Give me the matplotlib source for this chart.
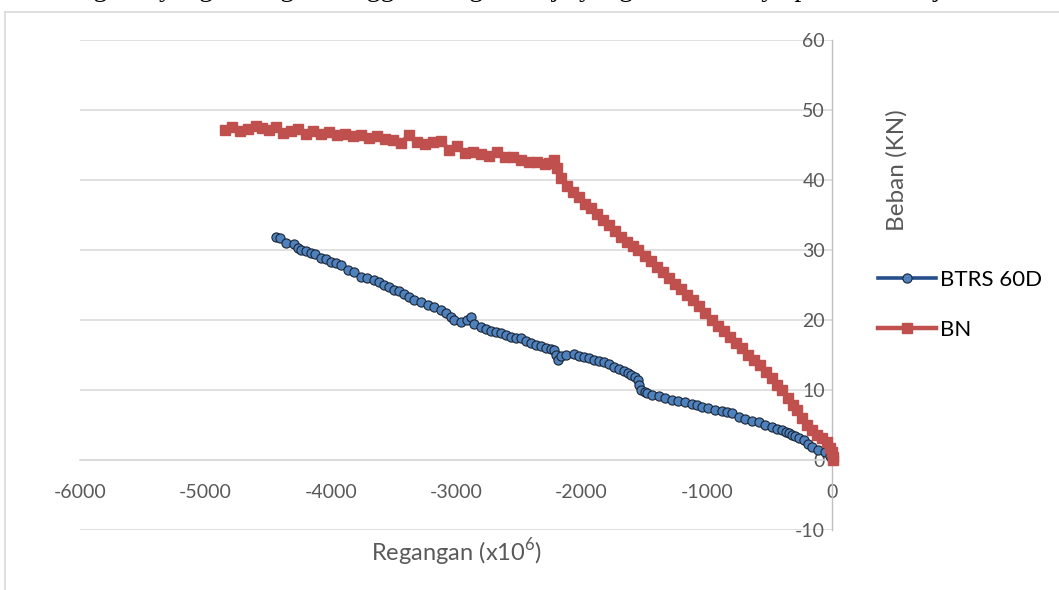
import matplotlib
matplotlib.use("Agg")
import matplotlib.pyplot as plt
from matplotlib.lines import Line2D

plt.rcParams["font.family"] = ["Lato", "DejaVu Sans"]
plt.rcParams["mathtext.fontset"] = "custom"
plt.rcParams["mathtext.rm"] = "Lato"
plt.rcParams["axes.unicode_minus"] = False

# BTRS 60D: strain (x10^6) vs load (kN)
btrs_x = [-4440, -4408, -4360, -4296, -4264, -4240, -4200, -4160, -4128, -4080,
          -4040, -4000, -3960, -3920, -3864, -3816, -3760, -3712, -3656, -3616,
          -3576, -3536, -3496, -3456, -3416, -3376, -3336, -3280, -3224, -3176,
          -3120, -3080, -3040, -3016, -2960, -2912, -2880, -2856, -2800, -2760,
          -2720, -2680, -2640, -2600, -2560, -2520, -2480, -2440, -2400, -2360,
          -2320, -2280, -2240, -2216, -2200, -2184, -2160, -2120, -2056, -2016,
          -1976, -1936, -1896, -1856, -1816, -1776, -1736, -1696, -1656, -1624,
          -1600, -1568, -1544, -1536, -1520, -1496, -1480, -1440, -1384, -1336,
          -1280, -1232, -1176, -1120, -1080, -1040, -992, -936, -880, -840,
          -800, -744, -696, -640, -584, -536, -480, -440, -400, -368,
          -344, -320, -296, -264, -224, -192, -160, -112, -56, -16, 0]
btrs_y = [31.9, 31.7, 31.0, 30.9, 30.3, 30.0, 29.9, 29.6, 29.4, 28.9,
          28.7, 28.3, 28.1, 27.9, 27.1, 26.9, 26.1, 26.0, 25.7, 25.4,
          25.0, 24.7, 24.3, 24.1, 23.7, 23.3, 22.9, 22.6, 22.1, 21.9,
          21.4, 21.0, 20.4, 20.0, 19.7, 20.0, 20.4, 19.4, 19.0, 18.7,
          18.4, 18.3, 18.1, 17.9, 17.6, 17.4, 17.4, 17.0, 16.7, 16.4,
          16.3, 16.0, 15.9, 15.7, 15.0, 14.3, 14.9, 15.0, 15.1, 14.9,
          14.7, 14.6, 14.3, 14.1, 14.0, 13.7, 13.3, 13.0, 12.7, 12.4,
          12.1, 11.9, 11.4, 10.7, 10.0, 9.7, 9.6, 9.3, 9.1, 8.9,
          8.6, 8.4, 8.3, 8.0, 7.9, 7.6, 7.4, 7.1, 7.0, 6.9,
          6.7, 6.1, 5.9, 5.6, 5.4, 5.0, 4.7, 4.4, 4.3, 4.0,
          3.9, 3.6, 3.4, 3.1, 2.9, 2.3, 1.9, 1.4, 1.1, 0.6, 0.1]

# BN
bn_x = [-4840, -4784, -4720, -4656, -4592, -4544, -4496, -4440, -4384, -4320,
        -4264, -4200, -4144, -4080, -4016, -3952, -3888, -3824, -3760, -3696,
        -3632, -3568, -3504, -3440, -3376, -3312, -3248, -3184, -3120, -3056,
        -2992, -2928, -2864, -2800, -2736, -2672, -2608, -2544, -2480, -2416,
        -2352, -2288, -2256, -2216, -2192, -2160, -2112, -2064, -2016, -1968,
        -1920, -1872, -1824, -1776, -1728, -1680, -1632, -1584, -1544, -1496,
        -1448, -1400, -1352, -1304, -1256, -1208, -1160, -1112, -1064, -1016,
        -960, -912, -864, -816, -768, -720, -672, -624, -576, -528,
        -480, -440, -400, -352, -312, -280, -240, -200, -160, -120,
        -80, -40, -16, 0, 8, 8]
bn_y = [47.1, 47.6, 47.0, 47.3, 47.7, 47.4, 47.1, 47.6, 46.7, 47.0,
        47.3, 46.6, 47.0, 46.6, 46.9, 46.4, 46.6, 46.3, 46.4, 46.0,
        46.3, 45.9, 45.7, 45.3, 46.4, 45.4, 45.1, 45.4, 45.6, 44.3,
        44.9, 43.9, 44.0, 43.7, 43.4, 44.0, 43.3, 43.3, 42.9, 42.6,
        42.6, 42.3, 42.4, 42.9, 41.7, 40.3, 39.1, 38.3, 37.6, 36.6,
        36.0, 35.1, 34.3, 33.6, 32.7, 31.9, 31.1, 30.6, 30.0, 29.1,
        28.4, 27.6, 26.9, 26.0, 25.1, 24.4, 23.6, 22.9, 22.0, 21.0,
        20.0, 19.1, 18.4, 17.6, 16.7, 16.0, 15.0, 14.3, 13.6, 12.6,
        11.7, 10.7, 10.0, 8.9, 7.9, 7.1, 6.0, 5.0, 4.3, 3.6,
        3.1, 2.6, 1.7, 1.1, 0.4, 0.0]

x_ticks = [-6000, -5000, -4000, -3000, -2000, -1000, 0]
y_ticks = [-10, 0, 10, 20, 30, 40, 50, 60]

BLUE_LINE = "#25508C"
BLUE_FACE = "#4F81BD"
RED = "#C0504D"
GRID = "#D9D9D9"
TEXT = "#595959"

W, H = 1059, 590
fig = plt.figure(figsize=(W / 100, H / 100), dpi=100)
ax = fig.add_axes([80 / W, 1 - 530 / H, 752 / W, 490 / H])

ax.plot(btrs_x, btrs_y, color=BLUE_LINE, linewidth=2.6, marker="o",
        markersize=6.6, markerfacecolor=BLUE_FACE, markeredgecolor="#1a2535",
        markeredgewidth=0.8, clip_on=False, zorder=3, label="BTRS 60D")
ax.plot(bn_x, bn_y, color=RED, linewidth=3.2, marker="s", markersize=7,
        markerfacecolor=RED, markeredgecolor=RED, clip_on=False, zorder=4,
        label="BN")

ax.set_xlim(-6000, 0)
ax.set_ylim(-10, 60)
ax.set_xticks(x_ticks)
ax.set_yticks(y_ticks)
ax.yaxis.grid(True, color=GRID, linewidth=1.1)
ax.set_axisbelow(True)

for side in ("top", "right"):
    ax.spines[side].set_visible(False)
ax.spines["left"].set_position(("data", 0))
ax.spines["left"].set_color("#BFBFBF")
ax.spines["left"].set_linewidth(1.0)
ax.spines["bottom"].set_position(("data", 0))
ax.spines["bottom"].set_color(GRID)
ax.spines["bottom"].set_linewidth(1.1)

ax.tick_params(axis="both", length=0, labelsize=14, labelcolor=TEXT)
ax.tick_params(axis="x", pad=17)
ax.tick_params(axis="y", pad=5)

fig.text(457 / W, 1 - 552 / H, r"Regangan (x10$^{\mathrm{6}}$)", fontsize=17,
         color=TEXT, ha="center", va="center")
fig.text(897 / W, 1 - 170 / H, "Beban (KN)", fontsize=17.5, color=TEXT,
         rotation=90, ha="center", va="center")

fig.legend(handles=ax.get_lines(), loc="center left",
           bbox_to_anchor=(858 / W, 1 - 305 / H), frameon=False, fontsize=16,
           handlelength=2.6, labelspacing=1.35, handletextpad=0.2)

# chart frame, clipped by the page on the right and bottom
fig.add_artist(Line2D([5 / W, 5 / W], [0, 1 - 12 / H], color=GRID, linewidth=1.2))
fig.add_artist(Line2D([5 / W, 1], [1 - 12 / H, 1 - 12 / H], color=GRID, linewidth=1.2))

# bottom edge of the document line above the chart
fig.text(-88 / W, 1 + 3.5 / H,
         "retak lentur dan geser yang datang, sehingga tulangan kerja yang "
         "menahan nya pada saat terjadi retak diagonal",
         fontsize=20, family="Liberation Serif", color="black",
         ha="left", va="baseline")

fig.savefig("out.png", dpi=100)
